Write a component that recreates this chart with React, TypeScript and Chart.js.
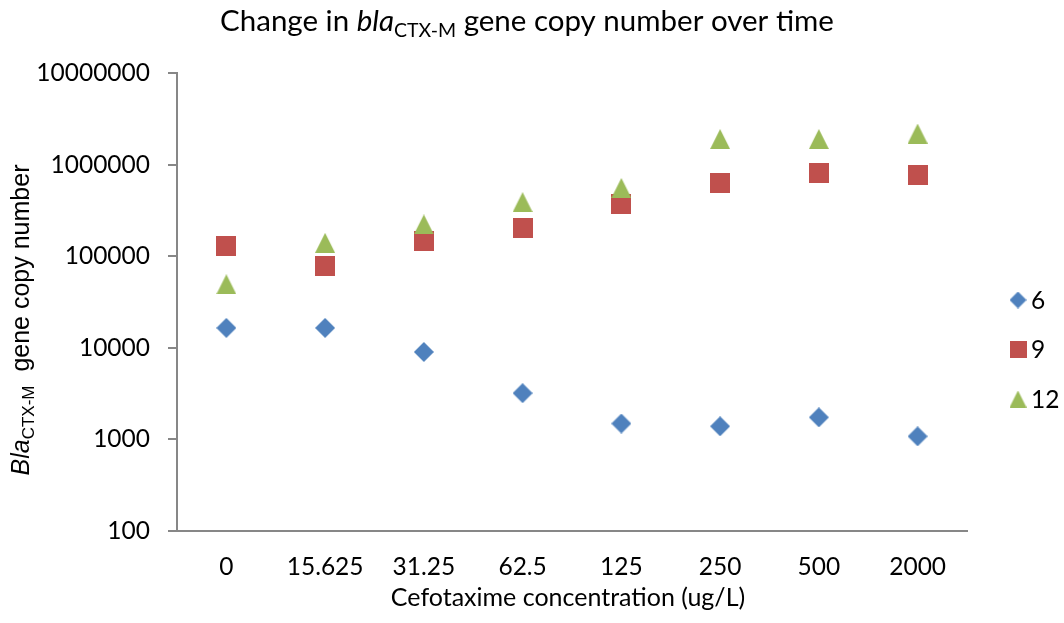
import React, { useEffect, useRef } from 'react';
import { Chart, registerables } from 'chart.js';

Chart.register(...registerables);

// Cefotaxime concentrations (ug/L), one category each
const concentrations = ['0', '15.625', '31.25', '62.5', '125', '250', '500', '2000'];

// blaCTX-M gene copy numbers per time point
const series6 = [16500, 16500, 9000, 3200, 1490, 1390, 1740, 1080];
const series9 = [130000, 78000, 148000, 205000, 372000, 628000, 818000, 766000];
const series12 = [49400, 140000, 222000, 389000, 556000, 1900000, 1900000, 2180000];

const seriesNames = ['6', '9', '12'];
const yTickValues = [100, 1000, 10000, 100000, 1000000, 10000000];

const BLUE = '#4F81BD';
const RED = '#C0504D';
const GREEN = '#9BBB59';
const AXIS = '#878787';
const FONT = 'Lato, "Open Sans", sans-serif';
const ARIAL = '"Liberation Sans", Arial, sans-serif';

type Shape = 'diamond' | 'square' | 'triangle';

function makeMarker(shape: Shape, size: number, color: string): HTMLCanvasElement {
  const c = document.createElement('canvas');
  c.width = size;
  c.height = size;
  const ctx = c.getContext('2d')!;
  ctx.fillStyle = color;
  ctx.beginPath();
  if (shape === 'diamond') {
    ctx.moveTo(size / 2, 0);
    ctx.lineTo(size, size / 2);
    ctx.lineTo(size / 2, size);
    ctx.lineTo(0, size / 2);
  } else if (shape === 'square') {
    ctx.rect(0, 0, size, size);
  } else {
    ctx.moveTo(size / 2, 0);
    ctx.lineTo(size, size);
    ctx.lineTo(0, size);
  }
  ctx.closePath();
  ctx.fill();
  return c;
}

type Seg = { text: string; font: string; dy: number };

function segWidth(ctx: CanvasRenderingContext2D, segs: Seg[]): number {
  let w = 0;
  for (const s of segs) {
    ctx.font = s.font;
    w += ctx.measureText(s.text).width;
  }
  return w;
}

function drawSegs(ctx: CanvasRenderingContext2D, segs: Seg[], x: number, y: number) {
  let cx = x;
  for (const s of segs) {
    ctx.font = s.font;
    ctx.fillText(s.text, cx, y + s.dy);
    cx += ctx.measureText(s.text).width;
  }
}

const shapes: Shape[] = ['diamond', 'square', 'triangle'];
const colors = [BLUE, RED, GREEN];

const annotations = {
  id: 'annotations',
  afterDraw(chart: Chart) {
    const ctx = chart.ctx;
    const area = chart.chartArea;
    ctx.save();
    ctx.fillStyle = '#000';
    ctx.textBaseline = 'alphabetic';
    ctx.textAlign = 'left';

    // Chart title with italic gene name and subscript
    const titleSegs: Seg[] = [
      { text: 'Change in ', font: `29.5px ${FONT}`, dy: 0 },
      { text: 'bla', font: `italic 29.5px ${FONT}`, dy: 0 },
      { text: 'CTX-M', font: `19.5px ${FONT}`, dy: 6 },
      { text: ' gene copy number over time', font: `29.5px ${FONT}`, dy: 0 },
    ];
    const tw = segWidth(ctx, titleSegs);
    drawSegs(ctx, titleSegs, 527 - tw / 2, 31);

    // X axis title
    ctx.font = `25px ${FONT}`;
    const xt = 'Cefotaxime concentration (ug/L)';
    const xw = ctx.measureText(xt).width;
    ctx.fillText(xt, 568 - xw / 2, 606);

    // Y axis title, rotated
    const ySegs: Seg[] = [
      { text: 'Bla', font: `italic 25px ${ARIAL}`, dy: 0 },
      { text: 'CTX-M', font: `17px ${ARIAL}`, dy: 5 },
      { text: '  gene copy number', font: `25px ${ARIAL}`, dy: 0 },
    ];
    const yw = segWidth(ctx, ySegs);
    ctx.translate(29, 320);
    ctx.rotate(-Math.PI / 2);
    drawSegs(ctx, ySegs, -yw / 2, 0);
    ctx.restore();

    // Legend
    ctx.save();
    ctx.fillStyle = '#000';
    ctx.font = `24.5px ${FONT}`;
    ctx.textBaseline = 'middle';
    ctx.textAlign = 'left';
    const legendY = [300, 349, 399];
    seriesNames.forEach((name, i) => {
      const m = makeMarker(shapes[i], 17, colors[i]);
      ctx.drawImage(m, 1018 - 8.5, legendY[i] - 8.5);
      ctx.fillText(name, 1031, legendY[i] + 1);
    });
    ctx.restore();
  },
};

export default function App() {
  const ref = useRef<HTMLCanvasElement | null>(null);

  useEffect(() => {
    const canvas = ref.current;
    if (!canvas) return;
    const tickFont = { family: FONT, size: 24.5 };
    const chart = new Chart(canvas, {
      type: 'line',
      data: {
        labels: concentrations,
        datasets: [
          {
            label: seriesNames[0],
            data: series6,
            showLine: false,
            pointStyle: makeMarker('diamond', 20, BLUE),
            pointRadius: 10,
            order: 2,
          },
          {
            label: seriesNames[1],
            data: series9,
            showLine: false,
            pointStyle: makeMarker('square', 20, RED),
            pointRadius: 10,
            order: 1,
          },
          {
            label: seriesNames[2],
            data: series12,
            showLine: false,
            pointStyle: makeMarker('triangle', 20, GREEN),
            pointRadius: 10,
            order: 0,
          },
        ],
      },
      options: {
        animation: false,
        responsive: false,
        devicePixelRatio: 1,
        layout: { padding: { left: 0, right: 97, top: 73, bottom: 0 } },
        plugins: {
          legend: { display: false },
          title: { display: false },
          tooltip: { enabled: false },
        },
        scales: {
          x: {
            type: 'category',
            offset: true,
            grid: { display: false, drawTicks: false },
            border: { display: true, color: AXIS, width: 2 },
            ticks: { font: tickFont, color: '#000', padding: 21, maxRotation: 0, autoSkip: false },
            afterFit: (s: any) => {
              s.height = 92;
            },
          },
          y: {
            type: 'logarithmic',
            min: 100,
            max: 10000000,
            grid: { display: true, drawOnChartArea: false, drawTicks: true, tickLength: 9, color: AXIS, lineWidth: 2 },
            border: { display: true, color: AXIS, width: 2 },
            ticks: {
              font: tickFont,
              color: '#000',
              padding: 18,
              callback: (v: any) => String(v),
            },
            afterBuildTicks: (s: any) => {
              s.ticks = yTickValues.map((v) => ({ value: v }));
            },
            afterFit: (s: any) => {
              s.width = 177;
            },
          },
        },
      },
      plugins: [annotations],
    });
    return () => chart.destroy();
  }, []);

  return (
    <div style={{ position: 'absolute', left: 0, top: 0, width: 1064, height: 623, background: '#fff' }}>
      <canvas ref={ref} width={1064} height={623} />
    </div>
  );
}
